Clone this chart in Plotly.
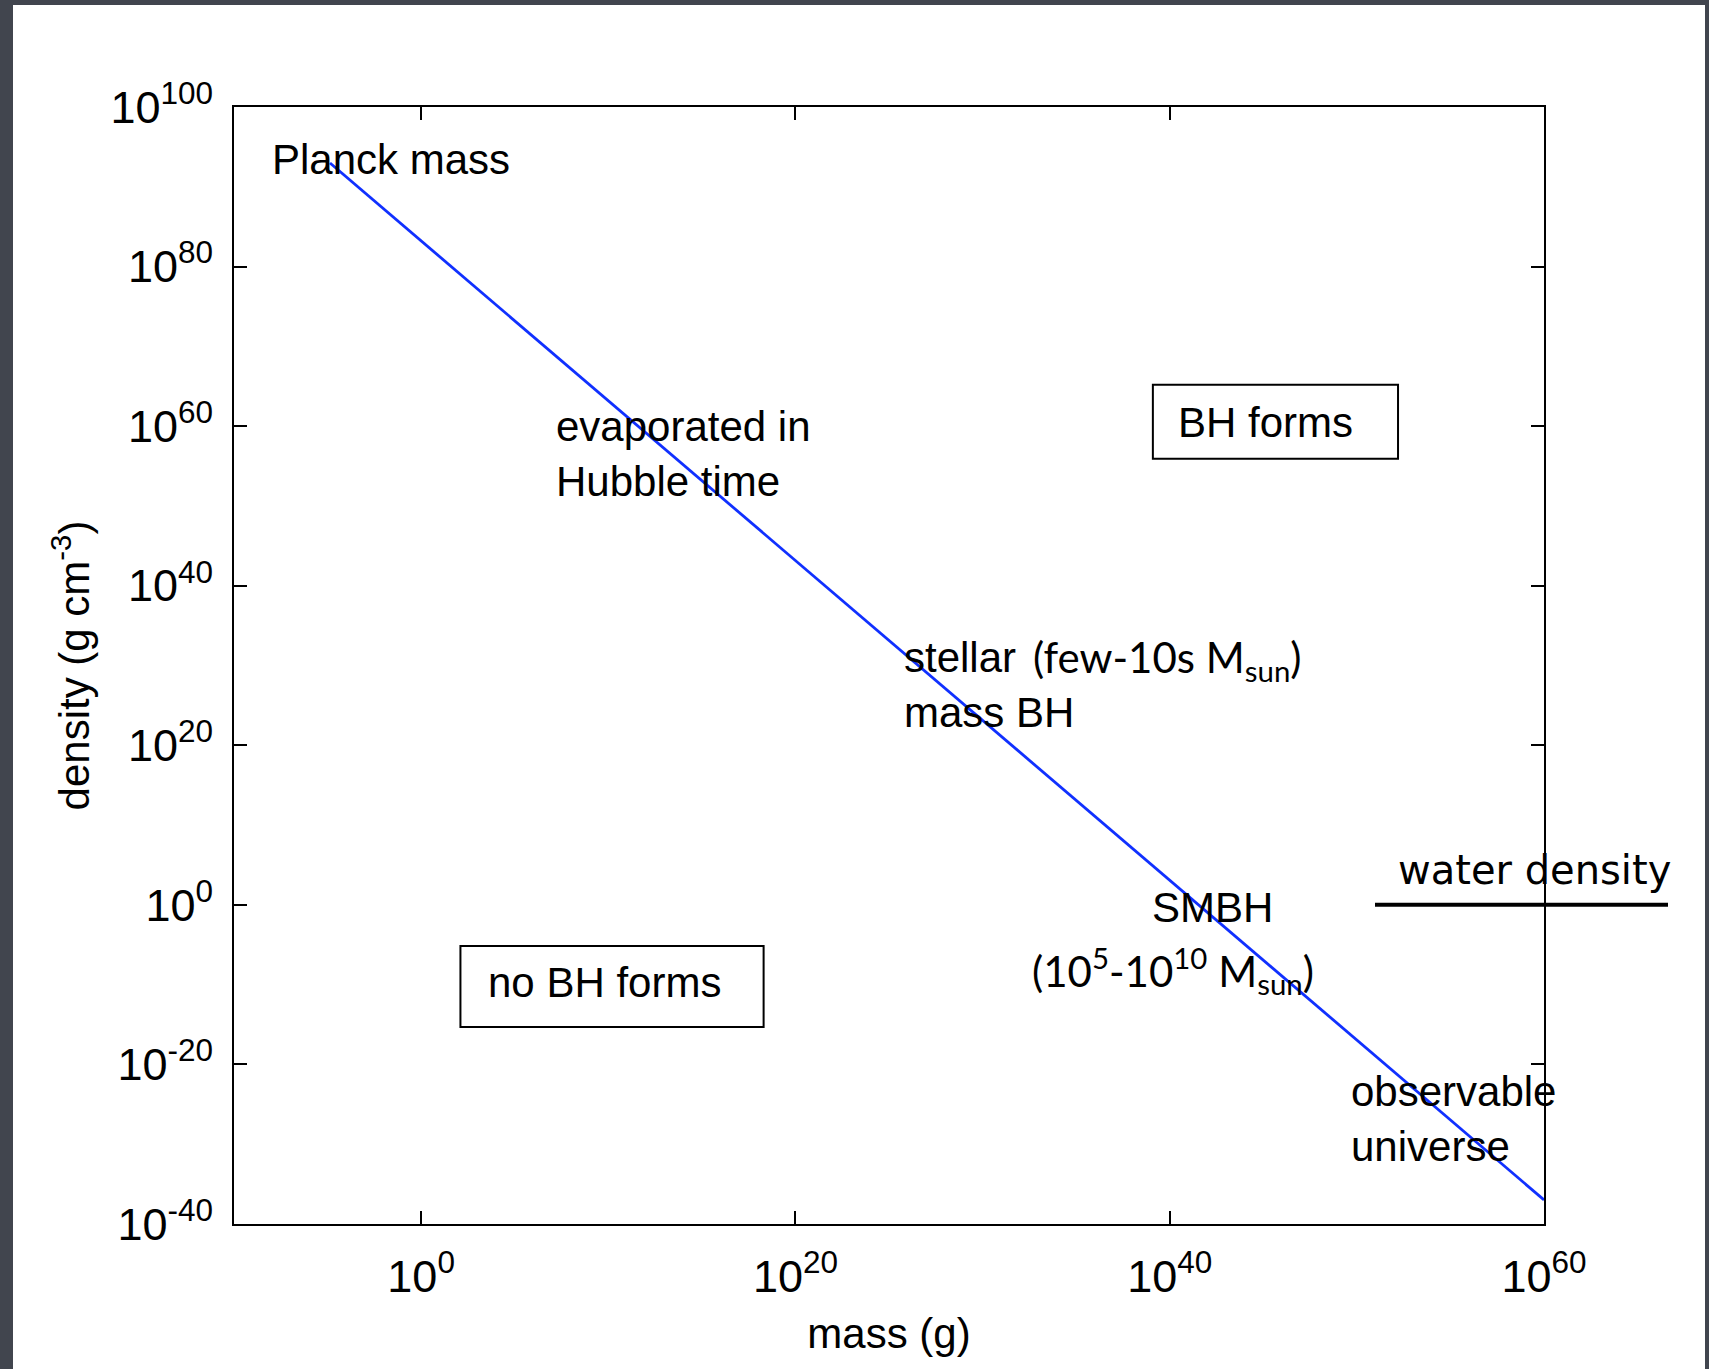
import plotly.graph_objects as go

# ---- data ----
mass_g = [1.35e-5, 1e60]            # black-hole line end points (g)
density_g_cm3 = [9.5e92, 1.05e-37]  # corresponding density (g cm^-3)
water_density = 1.0                 # g cm^-3

x_tick_vals = [1e0, 1e20, 1e40, 1e60]
x_tick_text = ["10<sup>0</sup>", "10<sup>20</sup>", "10<sup>40</sup>", "10<sup>60</sup>"]
y_tick_vals = [1e-40, 1e-20, 1e0, 1e20, 1e40, 1e60, 1e80, 1e100]
y_tick_text = ["10<sup>-40</sup>", "10<sup>-20</sup>", "10<sup>0</sup>", "10<sup>20</sup>",
               "10<sup>40</sup>", "10<sup>60</sup>", "10<sup>80</sup>", "10<sup>100</sup>"]

HELV = "Liberation Sans, Arial, Helvetica, sans-serif"
GILL = "Lato, Open Sans, sans-serif"
COMIC = "DejaVu Sans, sans-serif"

fig = go.Figure()
fig.add_trace(go.Scatter(
    x=mass_g, y=density_g_cm3, mode="lines",
    line=dict(color="#1030ff", width=2.8), showlegend=False, hoverinfo="skip"))

W, H = 1709, 1369
L, R, T, B = 234, 165, 107, 145

fig.update_layout(
    width=W, height=H, autosize=False,
    margin=dict(l=L, r=R, t=T, b=B, pad=0),
    paper_bgcolor="#41454e", plot_bgcolor="white",
    font=dict(family=HELV, size=42, color="black"),
    showlegend=False,
)

axis_common = dict(
    type="log", showgrid=False, zeroline=False,
    showline=True, linecolor="black", linewidth=2, mirror="ticks",
    ticks="inside", ticklen=13, tickwidth=2, tickcolor="black",
    tickfont=dict(family=HELV, size=45, color="black"),
)
fig.update_xaxes(**axis_common, range=[-10, 60], tickvals=x_tick_vals, ticktext=x_tick_text,
                 ticklabelstandoff=12,
                 title=dict(text="mass (g)", font=dict(family=HELV, size=42), standoff=18))
fig.update_yaxes(**axis_common, range=[-40, 100], tickvals=y_tick_vals, ticktext=y_tick_text,
                 ticklabelstandoff=10,
                 title=dict(text="density (g cm<sup>-3</sup>)", font=dict(family=HELV, size=42), standoff=8))

# white slide area behind the chart
fig.add_shape(type="rect", xref="paper", yref="paper",
              x0=(13 - L) / 1310, x1=(1705 - L) / 1310,
              y0=-0.2, y1=(1224 - 5) / 1117,
              fillcolor="white", line=dict(width=0), layer="below")

# boxes around region labels (shape coords on log axes are data values)
fig.add_shape(type="rect", xref="x", yref="y", x0=10**39.1, x1=10**52.2, y0=10**55.9, y1=10**65.2,
              line=dict(color="black", width=2))
fig.add_shape(type="rect", xref="x", yref="y", x0=10**2.1, x1=10**18.3, y0=10**-15.3, y1=10**-5.15,
              line=dict(color="black", width=2))

# water density marker
fig.add_shape(type="line", xref="paper", yref="y",
              x0=(1375 - L) / 1310, x1=(1668 - L) / 1310, y0=water_density, y1=water_density,
              line=dict(color="black", width=4))

def ann(text, x, y, xanchor="left", align="left", family=HELV, size=42):
    fig.add_annotation(text=text, x=x, y=y, xref="x", yref="y", showarrow=False,
                       xanchor=xanchor, yanchor="middle", align=align,
                       font=dict(family=family, size=size, color="black"))

ann("Planck mass", -8.1, 93.4)
ann("evaporated in<br>Hubble time", 7.1, 56.5)
ann("BH forms", 45.1, 60.5, xanchor="center", align="center")
ann("no BH forms", 9.8, -9.7, xanchor="center", align="center")
ann("stellar<br>mass BH", 25.7, 27.6)
ann("(few-10s M<sub>sun</sub>)", 32.6, 30.7, family=GILL, size=42)
ann("SMBH", 42.3, -0.3, xanchor="center", align="center")
ann("(10<sup>5</sup>-10<sup>10</sup> M<sub>sun</sub>)", 40.2, -8.2, xanchor="center",
    align="center", family=GILL, size=42)
ann("observable<br>universe", 49.6, -26.9)
ann("water density", 52.1, 4.4, family=COMIC, size=40)

fig.write_html("out.html")
